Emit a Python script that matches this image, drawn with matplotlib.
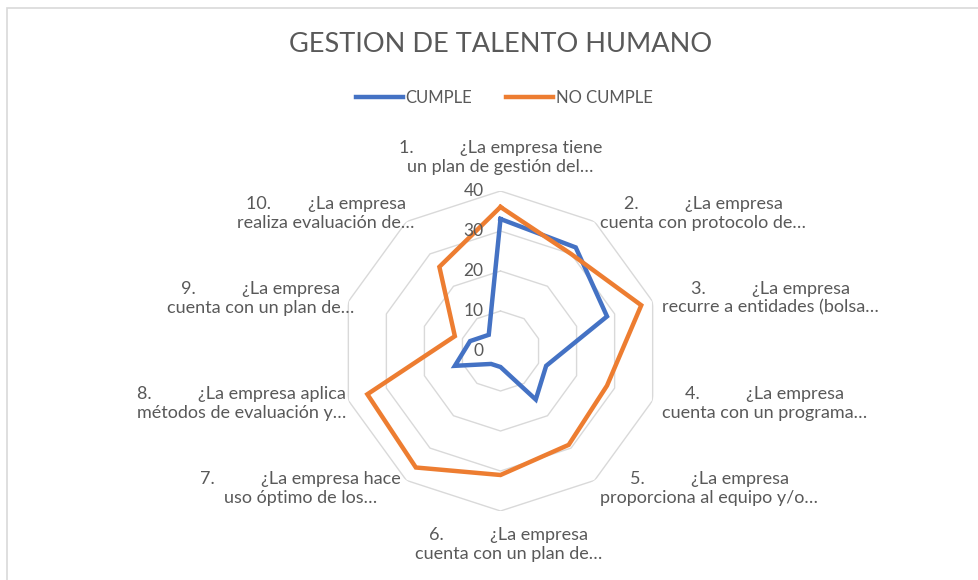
import numpy as np
import matplotlib
matplotlib.use("Agg")
import matplotlib.pyplot as plt
from matplotlib.lines import Line2D
from matplotlib.patches import Rectangle
from matplotlib.transforms import offset_copy

# data
categorias = [
    "1.          ¿La empresa tiene\nun plan de gestión del…",
    "2.          ¿La empresa\ncuenta con protocolo de…",
    "3.          ¿La empresa\nrecurre a entidades (bolsa…",
    "4.          ¿La empresa\ncuenta con un programa…",
    "5.          ¿La empresa\nproporciona al equipo y/o…",
    "6.          ¿La empresa\ncuenta con un plan de…",
    "7.          ¿La empresa hace\nuso óptimo de los…",
    "8.          ¿La empresa aplica\nmétodos de evaluación y…",
    "9.          ¿La empresa\ncuenta con un plan de…",
    "10.        ¿La empresa\nrealiza evaluación de…",
]
cumple = [33, 32, 28, 12, 15, 4, 4, 12, 8, 5]
no_cumple = [36, 30, 37, 28, 29, 31, 36, 35, 12, 26]
niveles = [0, 10, 20, 30, 40]

GRAY = "#595959"
BLUE = "#4472C4"
ORANGE = "#ED7D31"
plt.rcParams['font.family'] = ['Lato', 'DejaVu Sans']

W, H = 979, 580
fig = plt.figure(figsize=(W / 100, H / 100), dpi=100)
# chart border (only top and left edges fall inside the picture)
fig.patches.append(Rectangle((7.5 / W, -0.1), 1.2, 1 - 7.5 / H + 0.1,
                             transform=fig.transFigure, fill=False,
                             ec="#D9D9D9", lw=1.2))

cx, cy, R = 500.5, 351, 160
ax = fig.add_axes([(cx - R) / W, (H - cy - R) / H, 2 * R / W, 2 * R / H],
                  projection='polar')
ax.set_theta_offset(np.pi / 2)
ax.set_theta_direction(-1)
ax.set_ylim(0, 40)
ax.grid(False)
ax.spines['polar'].set_visible(False)
ax.set_xticks([])
ax.set_yticks([])
ax.patch.set_alpha(0)

n = len(categorias)
ang = np.linspace(0, 2 * np.pi, n, endpoint=False)
ang_c = np.append(ang, ang[0])

# decagon rings
for lv in niveles[1:]:
    ax.plot(ang_c, [lv] * (n + 1), color="#D9D9D9", lw=1.0, zorder=1)

ax.plot(ang_c, cumple + cumple[:1], color=BLUE, lw=3.2, zorder=3,
        solid_joinstyle='miter')
ax.plot(ang_c, no_cumple + no_cumple[:1], color=ORANGE, lw=3.2, zorder=3,
        solid_joinstyle='miter')

# radial tick labels
toff = offset_copy(ax.transData, fig=fig, x=-17, y=0, units='dots')
for lv in niveles:
    ax.text(0, lv, str(lv), transform=toff, ha='right', va='center',
            fontsize=12.5, color=GRAY)

# category labels
nudge = [0, 0, 0, 0, 0, 8, 0, 7, 15, 14]
for i, (a, lab) in enumerate(zip(ang, categorias)):
    if i == 0:
        ha, va, r = 'center', 'bottom', 44
    elif i == 5:
        ha, va, r = 'center', 'top', 44
    elif i < 5:
        ha, va, r = 'left', 'center', 42.5
    else:
        ha, va, r = 'right', 'center', 42.5
    tr = offset_copy(ax.transData, fig=fig, x=nudge[i], y=0, units='dots')
    ax.text(a, r, lab, transform=tr, ha=ha, va=va, multialignment='center',
            fontsize=13, color=GRAY, linespacing=1.2)

fig.text(0.511, 1 - 45 / H, "GESTION DE TALENTO HUMANO", ha='center',
         va='center', fontsize=19.5, color=GRAY)

handles = [Line2D([], [], color=BLUE, lw=3.2),
           Line2D([], [], color=ORANGE, lw=3.2)]
fig.legend(handles, ["CUMPLE", "NO CUMPLE"], loc='center',
           bbox_to_anchor=(0.515, 1 - 98 / H), ncol=2, frameon=False,
           fontsize=12, handlelength=2.85, handletextpad=0.15,
           columnspacing=2.0, labelcolor=GRAY)

fig.savefig("out.png", dpi=100)
